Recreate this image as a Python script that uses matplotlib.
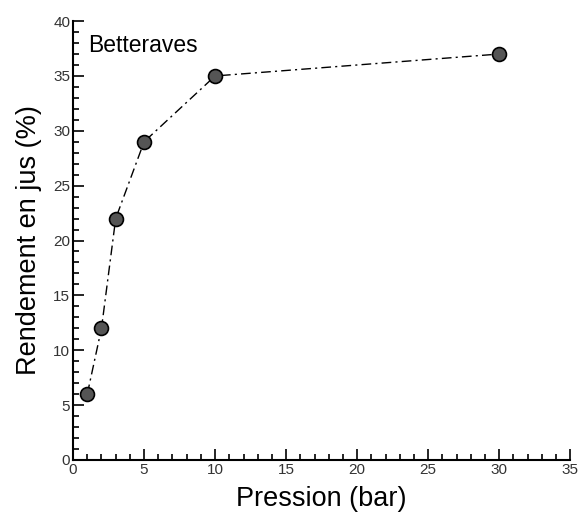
import matplotlib.pyplot as plt
from matplotlib.ticker import MultipleLocator

# Betteraves: rendement en jus vs pression
pression = [1, 2, 3, 5, 10, 30]
rendement = [6, 12, 22, 29, 35, 37]

plt.rcParams['font.family'] = ['Liberation Sans', 'DejaVu Sans']

fig = plt.figure(figsize=(5.8, 5.15), dpi=100)
ax = fig.add_axes([0.126, 0.107, 0.857, 0.852])

ax.plot(pression, rendement, color='black', linestyle='-.', linewidth=1.0,
        dashes=(7, 3, 1.5, 3), marker='o', markersize=10,
        markerfacecolor='#555555', markeredgecolor='black', markeredgewidth=1.2)

ax.set_xlim(0, 35)
ax.set_ylim(0, 40)
ax.xaxis.set_major_locator(MultipleLocator(5))
ax.xaxis.set_minor_locator(MultipleLocator(1))
ax.yaxis.set_major_locator(MultipleLocator(5))
ax.yaxis.set_minor_locator(MultipleLocator(1))
ax.tick_params(which='both', direction='in', width=1.2, labelsize=11, pad=2)
ax.tick_params(which='major', length=8)
ax.tick_params(which='minor', length=4)
for lab in ax.get_xticklabels() + ax.get_yticklabels():
    lab.set_color('#333333')

for s in ['top', 'right']:
    ax.spines[s].set_visible(False)
for s in ['left', 'bottom']:
    ax.spines[s].set_linewidth(1.5)

ax.set_xlabel('Pression (bar)', fontsize=19.5, labelpad=7)
ax.set_ylabel('Rendement en jus (%)', fontsize=19.5, labelpad=8)
ax.text(1.05, 37.8, 'Betteraves', fontsize=16.5, va='center')

plt.savefig('out.png', dpi=100)
